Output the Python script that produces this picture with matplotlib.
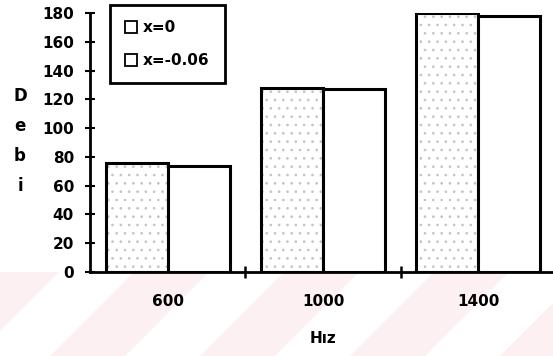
import matplotlib.pyplot as plt
from matplotlib.lines import Line2D
from matplotlib.patches import Polygon
import numpy as np

hiz = ['600', '1000', '1400']
debi_x0 = [76, 128, 180]
debi_x006 = [74, 127, 178]
series_labels = ['x=0', 'x=-0.06']
yticks = np.arange(0, 181, 20)
ylabel_letters = ['D', 'e', 'b', 'i']

plt.rcParams['font.family'] = ['DejaVu Sans']
plt.rcParams['font.weight'] = 'bold'
plt.rcParams['hatch.linewidth'] = 0.7

W, H = 553, 356
fig = plt.figure(figsize=(W / 100, H / 100), dpi=100)

# faint pink watermark stripes under the axis
for x0 in range(-250, 650, 150):
    pts = [(x0, 0), (x0 + 75, 0), (x0 + 75 + 84, 84), (x0 + 84, 84)]
    fig.add_artist(Polygon([(px / W, py / H) for px, py in pts], closed=True,
                           transform=fig.transFigure, facecolor='#fdf0f2',
                           edgecolor='none', zorder=0))

ax = fig.add_axes([90 / W, 84 / H, 466 / W, 259 / H])
ax.set_facecolor('none')
ax.set_zorder(2)

idx = np.arange(len(hiz))
# stippled fill for first series, outlines on top
ax.bar(idx - 0.4, debi_x0, width=0.4, align='edge', facecolor='white',
       hatch='..', edgecolor='#c4c4c4', linewidth=0)
ax.bar(idx - 0.4, debi_x0, width=0.4, align='edge', fill=False,
       edgecolor='black', linewidth=2.2)
ax.bar(idx, debi_x006, width=0.4, align='edge', facecolor='white',
       edgecolor='black', linewidth=2.2)

ax.set_xlim(-0.5, 2.5)
ax.set_ylim(0, 180)
for s in ['top', 'right']:
    ax.spines[s].set_visible(False)
for s in ['left', 'bottom']:
    ax.spines[s].set_linewidth(2)

ax.set_yticks(yticks)
ax.tick_params(axis='y', direction='inout', length=7, width=1.5, pad=8,
               labelsize=11)
ax.set_xticks(idx, hiz)
ax.set_xticks([0.5, 1.5], minor=True)
ax.tick_params(axis='x', which='major', length=0, pad=16, labelsize=11)
ax.tick_params(axis='x', which='minor', direction='inout', length=8, width=1.8)

ax.set_xlabel('Hız', fontsize=11, fontweight='bold', labelpad=16)

for i, ch in enumerate(ylabel_letters):
    fig.text(20 / W, 1 - (96 + i * 30) / H, ch, ha='center', va='center',
             fontsize=12, fontweight='bold')

handles = [Line2D([], [], marker='s', linestyle='none', markersize=8,
                  markerfacecolor='white', markeredgecolor='black',
                  markeredgewidth=1.3) for _ in series_labels]
leg = ax.legend(handles, series_labels, loc='upper left',
                bbox_to_anchor=(110 / W, 1 - 5 / H),
                bbox_transform=fig.transFigure, frameon=True, fancybox=False,
                framealpha=1, fontsize=11, handletextpad=0.35,
                handlelength=0.8, labelspacing=1.15, borderpad=1.0,
                borderaxespad=0)
leg.get_frame().set_edgecolor('black')
leg.get_frame().set_linewidth(2)
for t in leg.get_texts():
    t.set_fontweight('bold')

fig.savefig('out.png', dpi=100)
